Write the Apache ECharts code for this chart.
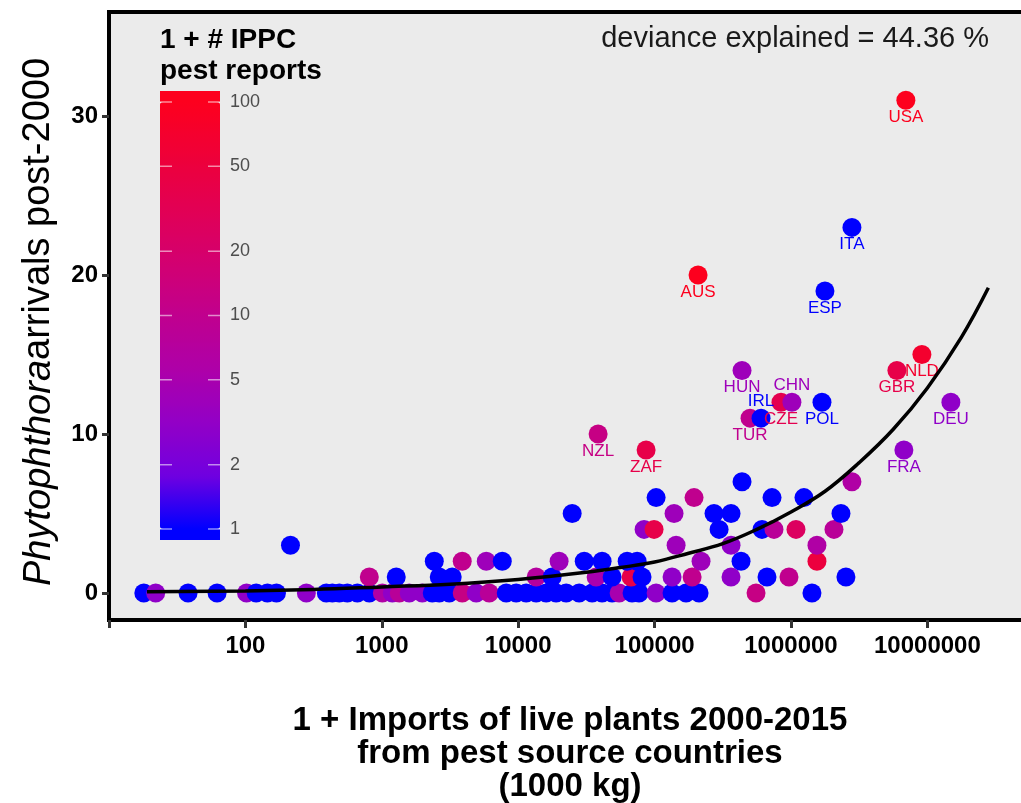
<!DOCTYPE html>
<html>
<head>
<meta charset="utf-8">
<script src="https://cdn.jsdelivr.net/npm/echarts@6/dist/echarts.min.js"></script>
<style>
  html,body{margin:0;padding:0;background:#fff}
  #chart{width:1021px;height:803px}
</style>
</head>
<body>
<div id="chart"></div>
<script>
// 1 + imports of live plants (1000 kg), one entry per source country
var importsKg = [
  // 0 arrivals
  18,22,38,62,102,120,145,169,280,392,434,488,559,662,810,1010,1194,1344,1590,1980,
  2344,2638,3124,3888,4925,6135,8174,9670,11450,13550,16040,18980,22480,27990,34850,
  41220,48830,54980,68400,76920,102600,134300,170200,211900,554300,1425000,
  // 1
  810,1276,2638,3283,13550,17740,37270,48830,67300,80900,134300,188400,363400,667000,966800,2528000,
  // 2
  2426,3888,5833,7643,19950,30480,41220,62920,74450,219100,430400,1550000,
  // 3
  214,143800,363400,1550000,
  // 4
  83750,99120,297100,613400,750500,1088000,2066000,
  // 5
  24880,138900,272700,363400,2325000,
  // 6
  102600,194700,726100,1245000,
  // 7
  437600,2798000,
  // labelled countries
  38540,86640,6726000,500800,603100,844900,1016000,1687000,14870000,437600,5976000,9114000,1774000,208300,2798000,6955000
]
var arrivals = [
  0,0,0,0,0,0,0,0,0,0,0,0,0,0,0,0,0,0,0,0,
  0,0,0,0,0,0,0,0,0,0,0,0,0,0,0,
  0,0,0,0,0,0,0,0,0,0,0,
  1,1,1,1,1,1,1,1,1,1,1,1,1,1,1,1,
  2,2,2,2,2,2,2,2,2,2,2,2,
  3,3,3,3,
  4,4,4,4,4,4,4,
  5,5,5,5,5,
  6,6,6,6,
  7,7,
  10,9,9,11,11,12,12,12,12,14,14,15,19,20,23,31
]
// 1 + number of IPPC pest reports
var ippcReports = [
  1,3,1,1,3,1,1,1,3,1,1,1,1,1,1,6,3,8,3,3,
  1,1,1,12,3,8,1,1,1,1,1,1,1,1,1,
  1,1,5,1,1,3,1,1,1,12,1,
  10,1,1,1,7,1,5,1,40,1,3,10,3,1,10,1,
  1,10,4,1,4,1,1,1,1,4,1,50,
  1,4,3,6,
  3,40,1,1,8,25,8,
  1,4,1,1,1,
  1,10,1,1,
  1,6,
  12,40,3,10,1,35,4,1,3,4,40,70,1,100,1,100
]
var countryCodes = [
  'NZL','ZAF','FRA','TUR','IRL','CZE','CHN','POL','DEU','HUN','GBR','NLD','ESP','AUS','ITA','USA'
]
var labelAbove = ['CHN','IRL']

// fitted curve
var fitX = [19,100,316,1000,3162,10000,31623,56234,100000,177828,316228,562341,1000000,1778279,3162278,5623413,10000000,17782794,28000000]
var fitY = [0.08,0.13,0.22,0.38,0.55,0.85,1.3,1.6,1.95,2.5,3.1,4.0,5.1,6.4,8.2,10.3,12.9,16.1,19.2]

var legendTicks = [1,2,5,10,20,50,100]
var yTicks = [0,10,20,30]

var FONT = '"Liberation Sans", Arial, sans-serif'

var nUnlabelled = importsKg.length - countryCodes.length
var pts = importsKg.map(function(x,i){
  var code = i >= nUnlabelled ? countryCodes[i - nUnlabelled] : ''
  var item = {value:[x, arrivals[i], Math.log10(ippcReports[i]), ippcReports[i], code]}
  if(code){
    item.label = {show:true, position: labelAbove.indexOf(code) >= 0 ? 'top' : 'bottom'}
  }
  return item
})

// colour bar geometry (1 .. 100 on a log scale)
var barLeft = 160, barW = 60, barTop = 102, barLen = 427
var barGraphics = [
  {type:'rect', shape:{x:barLeft, y:barTop-11, width:barW, height:11}, style:{fill:'#FD001E'}, z:10},
  {type:'rect', shape:{x:barLeft, y:barTop+barLen, width:barW, height:11}, style:{fill:'#0000FF'}, z:10}
]
legendTicks.forEach(function(v){
  var y = barTop + (2 - Math.log10(v)) / 2 * barLen
  barGraphics.push({type:'line', shape:{x1:barLeft, y1:y, x2:barLeft+12, y2:y}, style:{stroke:'rgba(255,255,255,0.55)', lineWidth:1.5}, z:11})
  barGraphics.push({type:'line', shape:{x1:barLeft+barW-12, y1:y, x2:barLeft+barW, y2:y}, style:{stroke:'rgba(255,255,255,0.55)', lineWidth:1.5}, z:11})
  barGraphics.push({type:'text', x:barLeft+barW+10, y:y, style:{text:String(v), font:'18px '+FONT, fill:'#4D4D4D', textVerticalAlign:'middle'}, z:11})
})

var chart = echarts.init(document.getElementById('chart'))

chart.setOption({
  animation:false,
  backgroundColor:'#fff',
  grid:{
    left:109, top:12, width:922, bottom:183,
    outerBoundsMode:'none',
    containLabel:false,
    show:true,
    backgroundColor:'#EBEBEB',
    borderColor:'#000',
    borderWidth:4
  },
  xAxis:{
    type:'log',
    logBase:10,
    min:10,
    max:57500000,
    axisLine:{show:true, onZero:false, lineStyle:{color:'#000', width:4}},
    axisTick:{show:true, inside:false, length:8, lineStyle:{color:'#333', width:3}},
    axisLabel:{
      fontSize:24, fontWeight:'bold', color:'#000', fontFamily:FONT, margin:14,
      formatter:function(v){
        var l = Math.log10(v)
        if(Math.abs(l - Math.round(l)) > 1e-6 || l < 1.5) return ''
        return String(Math.round(Math.pow(10, Math.round(l))))
      }
    },
    splitLine:{show:false},
    name:'1 + Imports of live plants 2000-2015\nfrom pest source countries\n(1000 kg)',
    nameLocation:'middle',
    nameGap:84,
    nameTextStyle:{fontSize:33, fontWeight:'bold', color:'#000', fontFamily:FONT, lineHeight:33}
  },
  yAxis:{
    type:'value',
    min:-1.7,
    max:36.55,
    axisLine:{show:true, onZero:false, lineStyle:{color:'#000', width:4}},
    axisTick:{show:true, length:7, customValues:yTicks, lineStyle:{color:'#333', width:3}},
    axisLabel:{customValues:yTicks, fontSize:24, fontWeight:'bold', color:'#000', fontFamily:FONT, margin:11},
    splitLine:{show:false},
    name:'{i|Phytophthora}arrivals post-2000',
    nameLocation:'middle',
    nameGap:51,
    nameTextStyle:{
      fontSize:38, color:'#000', fontFamily:FONT,
      padding:[0,12,0,0],
      rich:{i:{fontSize:38, fontStyle:'italic', color:'#000', fontFamily:FONT}}
    }
  },
  visualMap:{
    type:'continuous',
    seriesIndex:0,
    dimension:2,
    min:0,
    max:2,
    left:barLeft,
    top:barTop,
    itemWidth:barW,
    itemHeight:barLen,
    padding:0,
    calculable:false,
    hoverLink:false,
    text:null,
    inRange:{color:['#0000FF','#7000E0','#9300C6','#AE00A8','#C0008E','#D30070','#E20054','#EF0038','#FD001E']}
  },
  graphic:barGraphics.concat([
    {type:'text', x:160, y:25, style:{text:'1 + # IPPC\npest reports', font:'bold 28px '+FONT, fill:'#000', lineHeight:31, textVerticalAlign:'top'}, z:11},
    {type:'text', x:989, y:39, style:{text:'deviance explained = 44.36 %', font:'29px '+FONT, fill:'#1A1A1A', textAlign:'right', textVerticalAlign:'middle'}, z:11}
  ]),
  series:[
    {
      type:'scatter',
      symbolSize:19,
      data:pts,
      itemStyle:{opacity:1},
      label:{
        show:false,
        color:'inherit',
        fontSize:17,
        fontFamily:FONT,
        distance:-1,
        formatter:function(p){ return p.value[4] }
      },
      emphasis:{disabled:true},
      z:2
    },
    {
      type:'line',
      data:fitX.map(function(x,i){ return [x, fitY[i]] }),
      showSymbol:false,
      smooth:0.4,
      silent:true,
      lineStyle:{color:'#000', width:3.5},
      z:3
    }
  ]
})
</script>
</body>
</html>
